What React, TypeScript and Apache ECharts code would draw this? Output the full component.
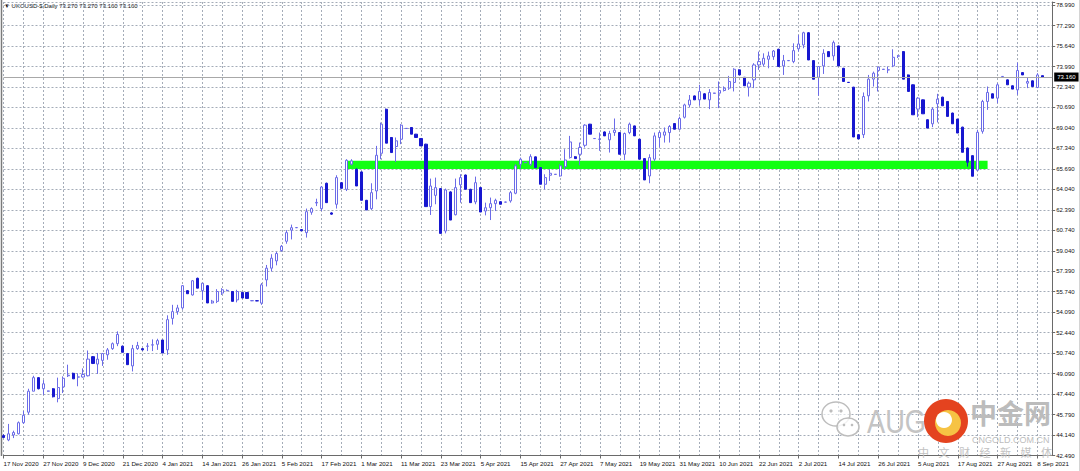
import React, { useEffect, useRef } from "react";
import * as echarts from "echarts";

const TITLE = "UKOUSD-$,Daily 73.270 73.270 73.160 73.160";
const START_UTC = Date.UTC(2020, 10, 17);
const HOLIDAYS = ["2020-12-25", "2021-01-01", "2021-04-02"];
const MONTHS = ["Jan", "Feb", "Mar", "Apr", "May", "Jun", "Jul", "Aug", "Sep", "Oct", "Nov", "Dec"];
const PAD_CATEGORIES = 2;

const OPEN = [
  44.10, 43.75, 44.15, 44.25, 45.15, 46.00, 47.70, 48.80, 47.90, 47.70,
  47.90, 47.10, 48.05, 48.95, 49.15, 48.84, 48.85, 48.95, 50.50, 49.90,
  50.20, 50.65, 51.15, 51.55, 51.35, 50.75, 49.75, 51.15, 51.15, 51.34,
  51.44, 51.50, 51.85, 51.05, 53.60, 54.15, 54.45, 55.85, 55.50, 56.85,
  55.85, 56.25, 54.85, 54.98, 55.65, 55.85, 55.78, 55.10, 55.70, 55.70,
  55.03, 55.03, 54.84, 56.72, 57.67, 58.26, 59.10, 59.85, 60.75, 60.95,
  60.80, 60.55, 62.20, 62.95, 62.49, 64.55, 62.15, 62.85, 64.60, 64.06,
  66.10, 65.69, 65.47, 63.17, 62.49, 63.93, 66.98, 70.55, 68.26, 67.53,
  68.12, 68.99, 69.07, 68.53, 68.18, 67.72, 62.66, 63.57, 64.12, 60.68,
  63.85, 62.00, 64.42, 65.22, 64.06, 63.04, 64.20, 62.30, 62.57, 62.90,
  63.06, 63.02, 63.12, 63.74, 66.09, 66.22, 66.09, 66.69, 65.82, 64.47,
  65.20, 65.27, 65.14, 65.90, 66.63, 66.70, 66.90, 67.63, 69.34, 68.17,
  68.11, 68.71, 68.07, 68.66, 68.66, 66.90, 68.66, 69.20, 68.12, 66.55,
  65.14, 66.50, 68.26, 68.45, 68.66, 69.39, 68.93, 69.90, 70.90, 71.63,
  71.31, 71.80, 71.31, 71.84, 71.85, 72.07, 72.26, 72.72, 73.74, 73.14,
  72.34, 72.93, 74.14, 74.20, 74.60, 74.81, 75.41, 74.06, 74.48, 74.41,
  75.45, 75.76, 76.75, 74.49, 73.14, 74.06, 75.22, 74.87, 75.68, 73.87,
  72.73, 72.34, 68.49, 68.49, 71.64, 72.99, 73.69, 73.78, 73.73, 74.06,
  74.85, 75.22, 73.33, 72.53, 70.56, 71.31, 69.70, 69.37, 70.99, 71.53,
  71.18, 70.24, 69.75, 69.10, 67.41, 66.79, 65.61, 68.76, 71.18, 71.80,
  71.45, 73.20, 72.93, 72.45, 72.12, 73.52, 72.66, 72.85, 72.31, 73.27,
];

const HIGH = [
  44.20, 45.05, 44.50, 45.25, 46.10, 47.90, 48.95, 48.85, 48.60, 47.75,
  47.95, 48.80, 48.90, 49.85, 49.20, 49.15, 49.55, 51.00, 50.55, 50.80,
  50.80, 51.20, 51.65, 52.55, 51.40, 50.80, 51.45, 51.70, 51.20, 51.60,
  51.90, 51.95, 51.85, 53.85, 54.70, 54.70, 56.30, 55.90, 56.70, 56.90,
  56.45, 56.30, 55.10, 55.97, 56.05, 55.95, 55.80, 55.92, 55.75, 55.72,
  55.08, 55.08, 56.46, 57.93, 58.80, 59.00, 59.55, 60.75, 61.20, 61.00,
  60.82, 62.50, 62.60, 63.30, 64.33, 64.60, 62.20, 65.20, 64.65, 66.50,
  66.50, 65.75, 65.50, 63.20, 64.55, 67.58, 69.47, 70.60, 68.30, 68.26,
  69.34, 69.02, 69.10, 68.55, 68.20, 67.75, 64.93, 65.01, 64.15, 64.12,
  63.90, 64.93, 65.28, 65.25, 64.10, 65.09, 64.25, 62.98, 63.39, 63.30,
  63.10, 63.05, 63.93, 66.09, 66.63, 66.26, 66.90, 66.72, 65.85, 65.28,
  65.69, 65.30, 66.09, 67.31, 68.39, 66.75, 67.85, 69.34, 69.36, 68.20,
  68.66, 68.75, 68.80, 69.80, 68.70, 68.66, 69.47, 69.22, 68.15, 66.58,
  66.90, 68.66, 68.80, 69.07, 69.26, 69.42, 69.95, 71.00, 71.70, 71.66,
  72.53, 71.85, 72.18, 71.88, 72.80, 72.40, 73.25, 73.87, 73.78, 73.16,
  72.80, 74.28, 75.22, 75.08, 75.22, 75.35, 75.45, 74.95, 74.52, 75.89,
  76.56, 76.83, 76.80, 74.52, 74.01, 75.41, 75.25, 76.11, 75.70, 73.90,
  72.75, 72.36, 68.52, 71.91, 73.33, 73.60, 74.01, 73.81, 74.01, 75.41,
  74.95, 75.25, 73.36, 72.56, 71.53, 71.34, 69.73, 70.72, 71.80, 71.56,
  71.21, 70.27, 69.78, 69.13, 67.44, 66.82, 68.89, 71.31, 72.39, 71.83,
  72.66, 73.23, 72.96, 72.48, 74.33, 73.55, 73.14, 72.88, 73.47, 73.27,
];

const LOW = [
  43.90, 43.65, 43.90, 44.20, 45.05, 45.80, 47.70, 47.85, 47.40, 47.65,
  47.20, 46.80, 47.55, 48.85, 48.70, 48.10, 48.80, 48.90, 49.90, 49.10,
  49.75, 50.25, 51.05, 51.35, 50.85, 49.85, 49.30, 51.05, 51.00, 50.95,
  50.95, 51.05, 50.80, 50.65, 53.10, 53.90, 54.30, 55.60, 55.45, 56.05,
  55.10, 54.85, 54.80, 54.84, 55.50, 55.80, 54.98, 54.90, 55.25, 55.22,
  55.00, 55.00, 54.70, 56.19, 57.40, 57.90, 59.00, 59.65, 60.00, 60.92,
  60.68, 60.15, 62.00, 62.70, 62.30, 62.98, 62.00, 62.50, 64.14, 63.92,
  66.00, 64.33, 63.17, 62.39, 62.39, 63.25, 66.50, 67.80, 67.04, 66.28,
  67.72, 68.96, 68.53, 68.26, 67.58, 62.66, 61.98, 62.85, 60.49, 60.49,
  61.57, 61.95, 62.98, 64.06, 62.98, 62.85, 62.22, 61.95, 61.57, 62.30,
  62.85, 63.00, 62.98, 63.66, 65.74, 66.20, 65.96, 65.82, 64.47, 64.06,
  64.74, 65.25, 65.09, 65.69, 66.55, 66.55, 66.01, 67.45, 68.53, 68.15,
  67.18, 68.39, 67.04, 68.39, 66.90, 66.44, 68.53, 68.39, 66.50, 64.82,
  64.55, 66.36, 67.45, 67.85, 67.85, 68.93, 68.88, 69.80, 70.70, 71.31,
  70.83, 71.37, 70.56, 71.82, 70.64, 71.99, 72.12, 71.99, 73.33, 72.45,
  71.58, 72.26, 73.74, 74.01, 73.87, 74.55, 74.01, 73.33, 74.46, 74.28,
  75.22, 75.49, 74.54, 72.98, 71.64, 73.41, 74.81, 74.49, 74.06, 72.80,
  72.70, 68.30, 68.14, 68.22, 71.18, 72.39, 71.99, 73.76, 73.47, 73.96,
  74.70, 72.99, 71.99, 70.10, 69.91, 70.18, 69.02, 69.10, 69.48, 70.83,
  69.97, 69.37, 68.62, 67.06, 65.90, 65.12, 65.55, 68.57, 70.50, 71.45,
  71.04, 73.17, 72.53, 72.18, 71.72, 73.33, 72.26, 72.39, 72.26, 73.16,
];

const CLOSE = [
  43.95, 44.25, 44.35, 45.15, 45.75, 47.70, 48.80, 47.90, 48.30, 47.72,
  47.25, 48.00, 48.75, 49.00, 48.70, 48.86, 49.05, 50.30, 49.95, 50.30,
  50.75, 51.05, 51.55, 52.30, 50.85, 49.85, 51.15, 51.40, 51.05, 51.36,
  51.46, 51.80, 50.80, 53.50, 54.15, 54.45, 56.25, 55.60, 56.65, 56.05,
  56.45, 54.85, 55.00, 55.78, 55.92, 55.87, 54.98, 55.78, 55.25, 55.22,
  55.04, 55.02, 56.32, 57.67, 58.48, 58.86, 59.45, 60.55, 60.95, 60.96,
  60.70, 62.25, 62.50, 63.00, 64.25, 62.98, 62.05, 65.01, 64.14, 66.41,
  66.36, 64.33, 63.17, 62.39, 63.79, 66.82, 69.34, 67.80, 67.04, 67.99,
  69.26, 69.00, 68.53, 68.26, 67.58, 62.66, 64.33, 64.20, 60.49, 64.01,
  61.57, 64.20, 65.01, 64.06, 62.98, 64.60, 62.22, 62.57, 62.90, 63.17,
  62.85, 63.03, 63.79, 65.96, 66.50, 66.24, 66.71, 65.82, 64.47, 65.01,
  65.36, 65.28, 65.96, 66.44, 67.90, 66.55, 67.45, 69.26, 68.53, 68.18,
  68.13, 68.39, 68.58, 68.85, 66.90, 68.58, 69.34, 68.39, 66.50, 64.82,
  66.63, 68.39, 68.66, 68.71, 69.15, 68.93, 69.80, 70.90, 71.30, 71.31,
  71.99, 71.37, 71.91, 71.86, 72.07, 72.26, 72.80, 73.79, 73.33, 72.45,
  72.66, 74.14, 74.41, 74.68, 74.87, 75.27, 74.01, 74.49, 74.50, 75.30,
  75.84, 76.75, 74.54, 72.98, 74.01, 75.08, 74.81, 75.95, 74.06, 72.80,
  72.72, 68.30, 68.14, 71.58, 72.99, 73.47, 73.96, 73.79, 73.75, 74.76,
  74.88, 72.99, 71.99, 70.10, 71.45, 70.18, 69.02, 70.56, 71.37, 70.83,
  69.97, 69.37, 68.62, 67.06, 66.25, 65.12, 68.68, 71.18, 71.91, 71.45,
  72.53, 73.21, 72.53, 72.18, 73.69, 73.33, 72.80, 72.39, 73.33, 73.16,
];

const PRICE_LABELS = [
  "42.490", "44.140", "45.790", "47.440", "49.090", "50.740", "52.440", "54.090",
  "55.740", "57.390", "59.040", "60.740", "62.390", "64.040", "65.690", "67.340",
  "69.040", "70.690", "72.340", "73.990", "75.640", "77.290", "78.990",
];
const Y_MIN = 42.49;
const Y_TOP_LABEL = 78.99;
const Y_MAX = 79.24;
const CURRENT_PRICE = 73.16;
const ZONE_LOW = 65.71;
const ZONE_HIGH = 66.38;
const ZONE_FROM_BAR = 69;
const ZONE_TO_BAR = 198;

function tradingDays(count: number): string[] {
  const out: string[] = [];
  let t = START_UTC;
  while (out.length < count) {
    const d = new Date(t);
    const dow = d.getUTCDay();
    const iso = d.toISOString().slice(0, 10);
    if (dow !== 0 && dow !== 6 && !HOLIDAYS.includes(iso)) {
      out.push(`${d.getUTCDate()} ${MONTHS[d.getUTCMonth()]} ${d.getUTCFullYear()}`);
    }
    t += 86400000;
  }
  return out;
}

export default function App() {
  const ref = useRef<HTMLDivElement>(null);

  useEffect(() => {
    if (!ref.current) return;
    const chart = echarts.init(ref.current, undefined, { renderer: "svg" });
    const categories = tradingDays(OPEN.length).concat(Array(PAD_CATEGORIES).fill(""));
    const candles = OPEN.map((o, i) => [o, CLOSE[i], LOW[i], HIGH[i]]);
    const step = (Y_TOP_LABEL - Y_MIN) / (PRICE_LABELS.length - 1);
    const gridColor = "#a4acb8";
    const frameColor = "#6a6a6a";
    const font = "Liberation Sans, Arial, sans-serif";
    const wmGray = "#bdbdbd";
    const wmChars = ["中", "文", "财", "经", "新", "媒", "体"];

    chart.setOption({
      animation: false,
      backgroundColor: "#ffffff",
      grid: { left: 3.5, top: 2, width: 1048.7, height: 453.5, containLabel: false },
      xAxis: {
        type: "category",
        data: categories,
        boundaryGap: false,
        axisLine: { show: true, lineStyle: { color: frameColor, width: 1 } },
        axisTick: { show: true, interval: 7, length: 3, lineStyle: { color: frameColor } },
        axisLabel: {
          interval: 7,
          align: "left",
          fontSize: 6.2,
          color: "#111",
          fontFamily: font,
          margin: 5,
          formatter: (v: string) => v,
        },
        splitLine: { show: true, interval: 3, lineStyle: { color: gridColor, type: [2, 2], width: 1 } },
      },
      yAxis: {
        type: "value",
        position: "right",
        min: Y_MIN,
        max: Y_MAX,
        interval: step,
        scale: true,
        axisLine: { show: true, lineStyle: { color: frameColor, width: 1 } },
        axisTick: { show: true, length: 3, lineStyle: { color: frameColor } },
        axisLabel: {
          fontSize: 6,
          color: "#111",
          fontFamily: font,
          margin: 4,
          formatter: (v: number) => {
            const k = Math.round((v - Y_MIN) / step);
            if (k < 0 || k >= PRICE_LABELS.length) return "";
            if (Math.abs(Y_MIN + k * step - v) > 0.05) return "";
            return PRICE_LABELS[k];
          },
        },
        splitLine: { show: true, lineStyle: { color: gridColor, type: [2, 2], width: 1 } },
      },
      series: [
        {
          type: "candlestick",
          data: candles,
          barWidth: 2.6,
          clip: false,
          z: 3,
          itemStyle: {
            color: "#ffffff",
            color0: "#1717cf",
            borderColor: "#6b6be8",
            borderColor0: "#1717cf",
            borderWidth: 1,
          },
          markArea: {
            silent: true,
            z: 1,
            itemStyle: { color: "#12ff12", opacity: 1 },
            label: { show: false },
            data: [[
              { xAxis: ZONE_FROM_BAR, yAxis: ZONE_HIGH },
              { xAxis: ZONE_TO_BAR, yAxis: ZONE_LOW },
            ]],
          },
          markLine: {
            silent: true,
            symbol: ["none", "none"],
            lineStyle: { color: "#a8a8a8", type: "solid", width: 1 },
            label: {
              show: true,
              position: "end",
              distance: 2,
              formatter: CURRENT_PRICE.toFixed(3),
              backgroundColor: "#000000",
              color: "#ffffff",
              fontSize: 6,
              fontFamily: font,
              padding: [2, 3, 1, 3],
            },
            data: [{ yAxis: CURRENT_PRICE }],
          },
        },
      ],
      graphic: [
        { type: "line", shape: { x1: 1.5, y1: 0, x2: 1.5, y2: 456 }, style: { stroke: "#7a7a7a", lineWidth: 1.5 }, silent: true },
        { type: "line", shape: { x1: 1079.5, y1: 0, x2: 1079.5, y2: 471 }, style: { stroke: "#d4d4d4", lineWidth: 1 }, silent: true },
        {
          type: "text",
          left: 4,
          top: 3,
          style: { text: "▼ " + TITLE, fontSize: 6, fill: "#111", fontFamily: font },
          silent: true,
        },
        // watermark
        { type: "ellipse", shape: { cx: 836, cy: 414, rx: 14, ry: 12 }, style: { fill: "rgba(255,255,255,0.6)", stroke: wmGray, lineWidth: 1.5 }, silent: true, z: 20 },
        { type: "ellipse", shape: { cx: 848, cy: 427, rx: 11, ry: 9 }, style: { fill: "rgba(255,255,255,0.8)", stroke: wmGray, lineWidth: 1.5 }, silent: true, z: 21 },
        { type: "circle", shape: { cx: 831, cy: 411, r: 1.6 }, style: { fill: wmGray }, silent: true, z: 22 },
        { type: "circle", shape: { cx: 841, cy: 411, r: 1.6 }, style: { fill: wmGray }, silent: true, z: 22 },
        { type: "circle", shape: { cx: 844, cy: 425, r: 1.3 }, style: { fill: wmGray }, silent: true, z: 22 },
        { type: "circle", shape: { cx: 852, cy: 425, r: 1.3 }, style: { fill: wmGray }, silent: true, z: 22 },
        {
          type: "text", x: 867, y: 404, scaleX: 0.8,
          style: { text: "AUG", fontSize: 34, fill: "#c4c4c4", fontFamily: font },
          silent: true, z: 20,
        },
        { type: "circle", shape: { cx: 946, cy: 421, r: 22 }, style: { fill: "#e4431f" }, silent: true, z: 20 },
        { type: "circle", shape: { cx: 948, cy: 423, r: 13 }, style: { fill: "#f6c344" }, silent: true, z: 21 },
        { type: "circle", shape: { cx: 944, cy: 420, r: 8 }, style: { fill: "#ffffff" }, silent: true, z: 22 },
        {
          type: "text", left: 970, top: 399,
          style: { text: "中金网", fontSize: 27, fontWeight: "bold", fill: "#bcbcbc", fontFamily: "Noto Sans CJK SC, sans-serif" },
          silent: true, z: 20,
        },
        {
          type: "text", left: 972, top: 435,
          style: { text: "CNGOLD.COM.CN", fontSize: 9, fill: "#bdbdbd", fontFamily: font },
          silent: true, z: 20,
        },
        ...wmChars.map((c, i) => ({
          type: "text", left: 918 + i * 20.5, top: 446,
          style: { text: c, fontSize: 11, fill: "#c2c2c2", fontFamily: "Noto Sans CJK SC, sans-serif" },
          silent: true, z: 20,
        })),
      ],
    });

    return () => chart.dispose();
  }, []);

  return (
    <div
      ref={ref}
      style={{ position: "absolute", left: 0, top: 0, width: 1080, height: 471, background: "#fff" }}
    />
  );
}
